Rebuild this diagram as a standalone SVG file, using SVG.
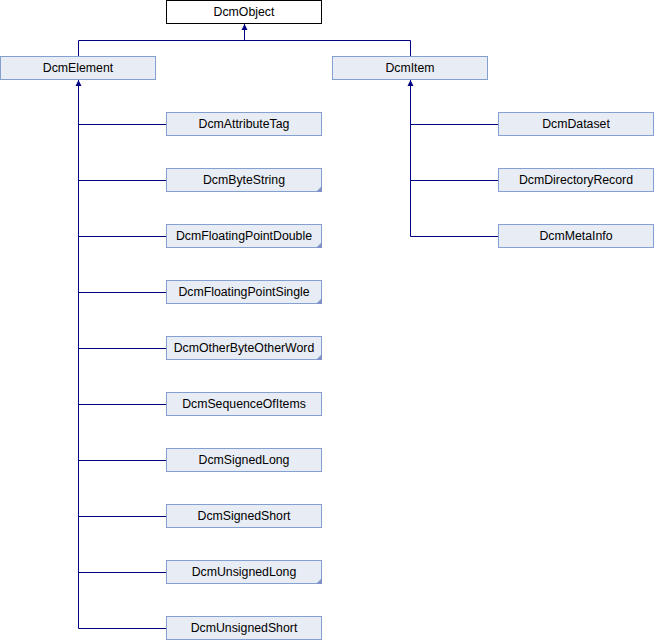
<svg xmlns="http://www.w3.org/2000/svg" xmlns:xlink="http://www.w3.org/1999/xlink" width="654" height="640" viewBox="0 0 654 640">
<style>
.n rect{fill:#e8ecf4;stroke:#84a0d0;stroke-width:1}
.n.root rect{fill:#ffffff;stroke:#000000}
.n text{font-family:"Liberation Sans",Arial,sans-serif;font-size:12.3px;fill:#000000;text-anchor:middle}
.n polygon{fill:#7f93c8}
.e{stroke:#000080;stroke-width:1;fill:none}
.ah{fill:#000080}
</style>
<defs>
<polygon id="arr" points="0,0 -3,6 3,6"/>
</defs>
<rect width="654" height="640" fill="#ffffff"/>
<g id="connectors">
<path class="e" d="M244.5,24 V40.5 M78.5,40.5 H410.5 M78.5,40.5 V56 M410.5,40.5 V56"/>
<use xlink:href="#arr" class="ah" x="244.5" y="24"/>
<path class="e" d="M78.5,80 V628.5 M78.5,124.5 H166 M78.5,180.5 H166 M78.5,236.5 H166 M78.5,292.5 H166 M78.5,348.5 H166 M78.5,404.5 H166 M78.5,460.5 H166 M78.5,516.5 H166 M78.5,572.5 H166 M78.5,628.5 H166"/>
<use xlink:href="#arr" class="ah" x="78.5" y="80"/>
<path class="e" d="M410.5,80 V236.5 M410.5,124.5 H498 M410.5,180.5 H498 M410.5,236.5 H498"/>
<use xlink:href="#arr" class="ah" x="410.5" y="80"/>
</g>
<g id="DcmObject" class="n root"><rect x="166.5" y="0.5" width="155" height="23"/><text x="244" y="16">DcmObject</text></g>
<g id="DcmElement" class="n"><rect x="0.5" y="56.5" width="155" height="23"/><text x="78" y="72">DcmElement</text></g>
<g id="DcmItem" class="n"><rect x="332.5" y="56.5" width="155" height="23"/><text x="410" y="72">DcmItem</text></g>
<g id="DcmAttributeTag" class="n"><rect x="166.5" y="112.5" width="155" height="23"/><text x="244" y="128">DcmAttributeTag</text></g>
<g id="DcmByteString" class="n"><rect x="166.5" y="168.5" width="155" height="23"/><polygon points="322,186 322,192 316,192"/><text x="244" y="184">DcmByteString</text></g>
<g id="DcmFloatingPointDouble" class="n"><rect x="166.5" y="224.5" width="155" height="23"/><polygon points="322,242 322,248 316,248"/><text x="244" y="240">DcmFloatingPointDouble</text></g>
<g id="DcmFloatingPointSingle" class="n"><rect x="166.5" y="280.5" width="155" height="23"/><polygon points="322,298 322,304 316,304"/><text x="244" y="296">DcmFloatingPointSingle</text></g>
<g id="DcmOtherByteOtherWord" class="n"><rect x="166.5" y="336.5" width="155" height="23"/><polygon points="322,354 322,360 316,360"/><text x="244" y="352">DcmOtherByteOtherWord</text></g>
<g id="DcmSequenceOfItems" class="n"><rect x="166.5" y="392.5" width="155" height="23"/><text x="244" y="408">DcmSequenceOfItems</text></g>
<g id="DcmSignedLong" class="n"><rect x="166.5" y="448.5" width="155" height="23"/><text x="244" y="464">DcmSignedLong</text></g>
<g id="DcmSignedShort" class="n"><rect x="166.5" y="504.5" width="155" height="23"/><text x="244" y="520">DcmSignedShort</text></g>
<g id="DcmUnsignedLong" class="n"><rect x="166.5" y="560.5" width="155" height="23"/><polygon points="322,578 322,584 316,584"/><text x="244" y="576">DcmUnsignedLong</text></g>
<g id="DcmUnsignedShort" class="n"><rect x="166.5" y="616.5" width="155" height="23"/><text x="244" y="632">DcmUnsignedShort</text></g>
<g id="DcmDataset" class="n"><rect x="498.5" y="112.5" width="155" height="23"/><text x="576" y="128">DcmDataset</text></g>
<g id="DcmDirectoryRecord" class="n"><rect x="498.5" y="168.5" width="155" height="23"/><text x="576" y="184">DcmDirectoryRecord</text></g>
<g id="DcmMetaInfo" class="n"><rect x="498.5" y="224.5" width="155" height="23"/><text x="576" y="240">DcmMetaInfo</text></g>
</svg>
